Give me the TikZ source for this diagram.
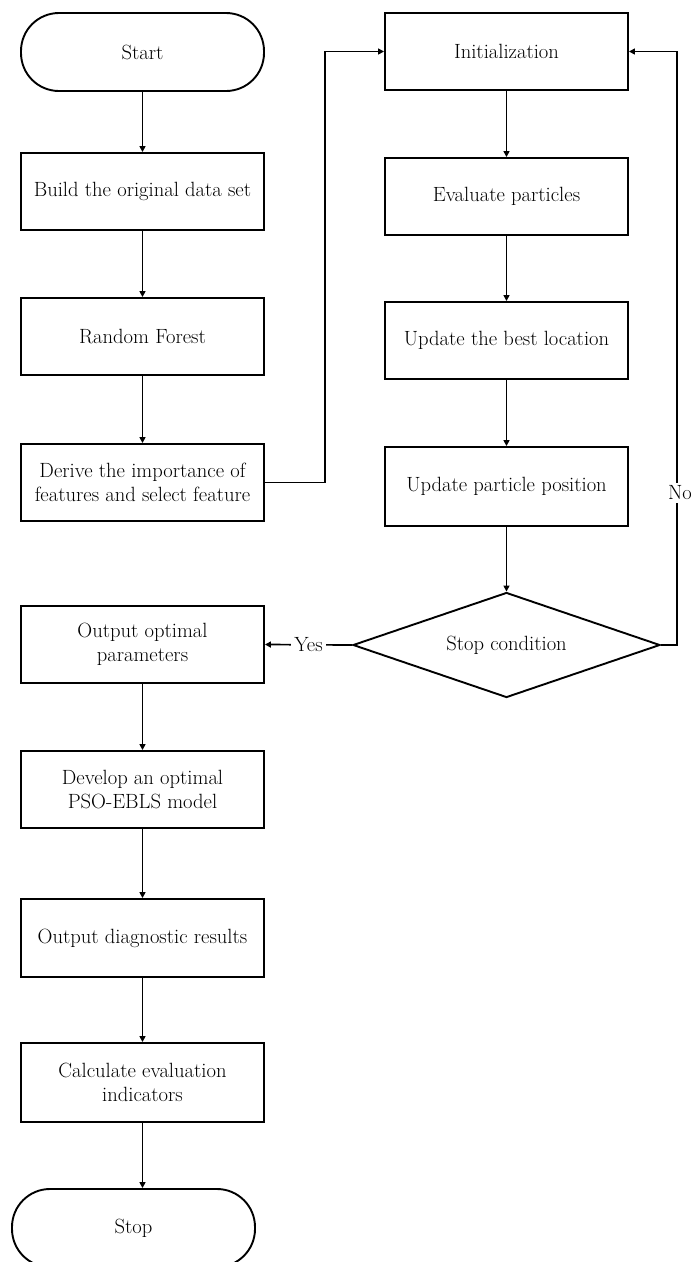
\documentclass[tikz,border=0pt]{standalone}
\usepackage{fontspec}
\usetikzlibrary{shapes.geometric,arrows.meta}
\begin{document}
\begin{tikzpicture}[x=1pt,y=-1pt,
  txt/.style={font=\fontsize{20.6}{24}\selectfont},
  box/.style={draw,line width=1.9pt,minimum width=243pt,minimum height=77pt,inner sep=0pt,align=center,txt},
  term/.style={box,rounded corners=38pt,minimum height=78pt},
  cond/.style={draw,line width=1.9pt,diamond,aspect=2.924,minimum width=307pt,minimum height=105pt,inner sep=0pt,txt},
  arr/.style={line width=1.7pt,-{Triangle[length=6pt,width=6pt]}},
  lbl/.style={fill=white,inner sep=3pt,txt}]
\useasboundingbox (0,0) rectangle (691,1262);
% left column
\node[term] (start) at (142.5,52) {Start};
\node[box] (build) at (142.5,191.5) {Build the original data set};
\node[box] (rf) at (142.5,336.5) {Random Forest};
\node[box] (derive) at (142.5,482.5) {Derive the importance of\\features and select feature};
\node[box] (outopt) at (142.5,644.5) {Output optimal\\parameters};
\node[box] (develop) at (142.5,789.5) {Develop an optimal\\PSO-EBLS model};
\node[box,minimum height=78pt] (outdiag) at (142.5,938) {Output diagnostic results};
\node[box,minimum height=79pt] (calc) at (142.5,1082.5) {Calculate evaluation\\indicators};
\node[term] (stop) at (133.5,1228) {Stop};
% right column
\node[box] (init) at (506.5,51.5) {Initialization};
\node[box] (eval) at (506.5,196.5) {Evaluate particles};
\node[box] (best) at (506.5,340.5) {Update the best location};
\node[box,minimum height=79pt] (upd) at (506.5,486.5) {Update particle position};
\node[cond] (cond) at (506.5,645) {Stop condition};
% helper coordinates
\coordinate (jl) at (325,51.5);
\coordinate (jr) at (677,51.5);
% connectors
\draw[arr] (start) -- (build);
\draw[arr] (build) -- (rf);
\draw[arr] (rf) -- (derive);
\draw[arr] (derive.east) -| (jl) -- (init.west);
\draw[arr] (init) -- (eval);
\draw[arr] (eval) -- (best);
\draw[arr] (best) -- (upd);
\draw[arr] (upd) -- (cond);
\draw[arr] (cond.east) -| (jr) -- (init.east);
\node[lbl] (no) at (680,493) {No};
\draw[arr] (cond.west) -- node[lbl] (yes) {Yes} (outopt.east);
\draw[arr] (outopt) -- (develop);
\draw[arr] (develop) -- (outdiag);
\draw[arr] (outdiag) -- (calc);
\draw[arr] (calc.south) -- (calc.south |- stop.north);
\end{tikzpicture}
\end{document}
